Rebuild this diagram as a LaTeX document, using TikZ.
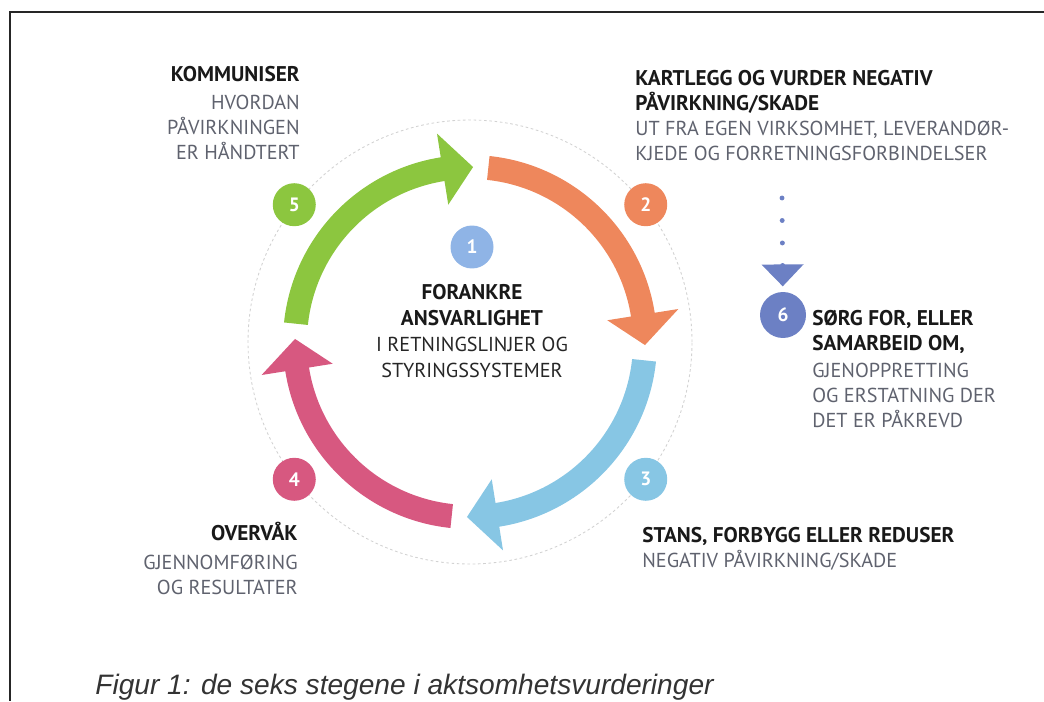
\documentclass[tikz,border=0pt]{standalone}
\usepackage{fontspec}
\setmainfont{PT Sans}
\newfontfamily\capfont{Liberation Sans}
\usetikzlibrary{positioning}
\usetikzlibrary{arrows.meta}
\usetikzlibrary{calc}

\definecolor{stepgreen}{RGB}{140,198,63}
\definecolor{steporange}{RGB}{238,135,92}
\definecolor{stepblue}{RGB}{135,198,228}
\definecolor{steppink}{RGB}{215,88,128}
\definecolor{onecol}{RGB}{143,180,230}
\definecolor{sixcol}{RGB}{108,128,196}
\definecolor{subgray}{RGB}{95,98,110}

\newcommand{\hd}[1]{\textcolor{black!90}{\fontsize{12.1}{14.2}\selectfont\textbf{#1}}}

\begin{document}
\begin{tikzpicture} [x=0.02cm, y=0.02cm,
    num/.style = {circle, fill=#1, text=white, inner sep=0pt, minimum size=0.86cm,
                  font=\bfseries\fontsize{11}{11}\selectfont},
    txt/.style = {inner sep=0pt, text=subgray, font=\fontsize{11.5}{14.2}\selectfont}]
        \useasboundingbox (0,0) rectangle (1044,701);

        %Rahmen
        \draw[line width=1.2pt, black!85] (1044,689) -- (10,689) -- (10,0);

        %Kreis
        \coordinate (c) at (470,359);
        \draw[gray!35, line width=0.5pt, dash pattern=on 1.5pt off 1.5pt] (c) circle[radius=222];

        \begin{scope}[shift={(c)}]
        \fill[stepgreen] (174:187) arc[start angle=174, end angle=99, radius=187]
            -- (99:211) -- (89:175) -- (99:139) -- (99:163)
            arc[start angle=99, end angle=174, radius=163] -- cycle;
        \fill[steporange] (84:187) arc[start angle=84, end angle=9, radius=187]
            -- (9:211) -- (-1:175) -- (9:139) -- (9:163)
            arc[start angle=9, end angle=84, radius=163] -- cycle;
        \fill[stepblue] (-6:187) arc[start angle=-6, end angle=-81, radius=187]
            -- (-81:211) -- (-91:175) -- (-81:139) -- (-81:163)
            arc[start angle=-81, end angle=-6, radius=163] -- cycle;
        \fill[steppink] (-96:187) arc[start angle=-96, end angle=-171, radius=187]
            -- (-171:211) -- (-181:175) -- (-171:139) -- (-171:163)
            arc[start angle=-171, end angle=-96, radius=163] -- cycle;
        \end{scope}

        %Knoten
        \node[num=onecol] (n1) at (472,454) {1};
        \node[num=steporange] (n2) at ($(c)+(38:223)$) {2};
        \node[num=stepblue] (n3) at ($(c)+(-38:223)$) {3};
        \node[num=steppink] (n4) at ($(c)+(-142:223)$) {4};
        \node[num=stepgreen] (n5) at ($(c)+(142:223)$) {5};
        \node[num=sixcol, minimum size=0.92cm] (n6) at (783,386) {6};

        \node[txt, align=center, text=black!85, font=\fontsize{11.5}{14.8}\selectfont] (t1)
            [below = 0.3cm of n1]
            {\hd{FORANKRE}\\ \hd{ANSVARLIGHET}\\ I RETNINGSLINJER OG\\ STYRINGSSYSTEMER};
        \node[txt, align=left, anchor=north west] (t2) at (635,631)
            {\hd{KARTLEGG OG VURDER NEGATIV}\\ \hd{PÅVIRKNING/SKADE}\\
             UT FRA EGEN VIRKSOMHET, LEVERANDØR-\\ KJEDE OG FORRETNINGSFORBINDELSER};
        \node[txt, align=left, anchor=north west] (t3) at (642,174)
            {\hd{STANS, FORBYGG ELLER REDUSER}\\ NEGATIV PÅVIRKNING/SKADE};
        \node[txt, align=right, anchor=north east] (t4) at (298,179)
            {\hd{OVERVÅK}\\[2pt] GJENNOMFØRING\\ OG RESULTATER};
        \node[txt, align=right, anchor=north east] (t5) at (300,635)
            {\hd{KOMMUNISER}\\[2pt] HVORDAN\\ PÅVIRKNINGEN\\ ER HÅNDTERT};
        \node[txt, align=left, anchor=north west] (t6) at (812,391)
            {\hd{SØRG FOR, ELLER}\\ \hd{SAMARBEID OM,}\\[1pt] GJENOPPRETTING\\
             OG ERSTATNING DER\\ DET ER PÅKREVD};

        \node[inner sep=0pt, anchor=base west, text=black!80,
              font=\capfont\itshape\fontsize{16}{18}\selectfont] (cap) at (95,7)
            {Figur 1: de seks stegene i aktsomhetsvurderinger};

        %Kanten
        \coordinate (d6) at (782,503);
        \draw[sixcol, line width=2.8pt, line cap=round, dash pattern=on 0pt off 12.8pt,
              -{Triangle[width=23.3pt, length=12.5pt, line cap=butt]}, shorten >=3pt]
            (d6) -- (n6);
\end{tikzpicture}
\end{document}
